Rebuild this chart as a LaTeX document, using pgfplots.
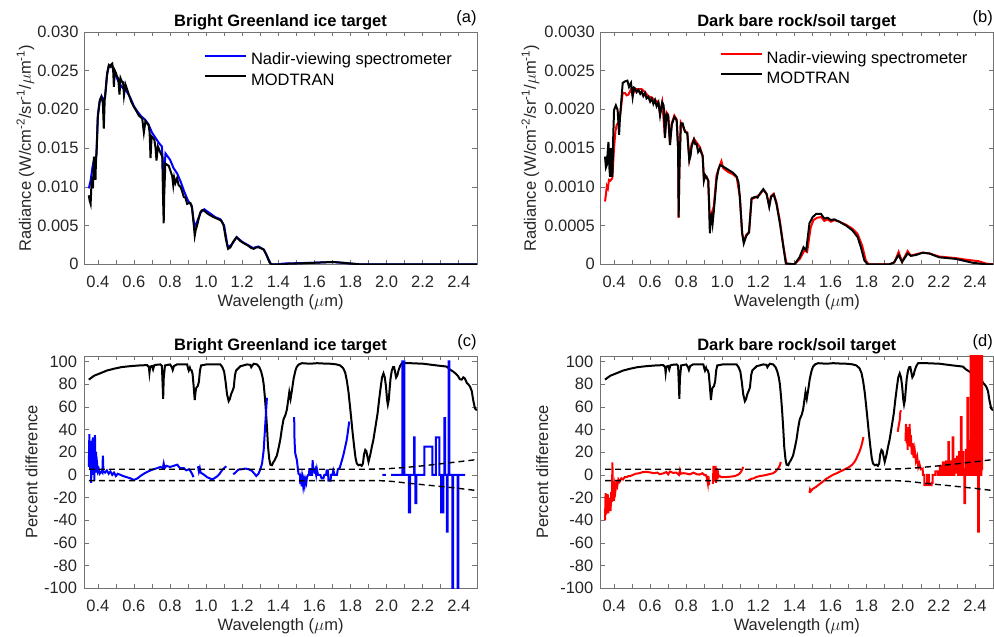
\documentclass[border=0pt]{standalone}
\usepackage{fontspec}
\setmainfont{Liberation Sans}
\usepackage{pgfplots}
\pgfplotsset{compat=1.18}
\definecolor{axgray}{gray}{0.45}
\definecolor{txtgray}{gray}{0.15}
\definecolor{mblue}{RGB}{0,0,255}
\definecolor{mred}{RGB}{255,0,0}

\pgfplotsset{
  every axis title/.style={at={(0.5,1)}, anchor=base, yshift=5.5bp, font=\bfseries, inner sep=0pt},
  panel/.style={
    scale only axis, width=392.5bp, height=232.5bp,
    xmin=0.325, xmax=2.5,
    xtick={0.4,0.6,0.8,1.0,1.2,1.4,1.6,1.8,2.0,2.2,2.4},
    xticklabels={0.4,0.6,0.8,1.0,1.2,1.4,1.6,1.8,2.0,2.2,2.4},
    minor xtick={0.5,0.7,0.9,1.1,1.3,1.5,1.7,1.9,2.1,2.3},
    scaled y ticks=false, scaled x ticks=false,
    axis line style={axgray, line width=0.6bp},
    every tick/.style={axgray, line width=0.6bp},
    major tick length=4.5bp, minor tick length=4.5bp,
    tick align=inside,
    every tick label/.append style={txtgray},
    xticklabel style={anchor=base, yshift=-23.3bp, inner sep=0pt},
    yticklabel style={anchor=east, inner sep=0pt, xshift=-5.5bp},
    xlabel={Wavelength ($\mu$m)},
    xlabel style={at={(axis description cs:0.5,-0.181)}, anchor=base, inner sep=0pt, txtgray},
    ylabel style={anchor=base, inner sep=0pt, txtgray},
    legend style={draw=none, fill=none, inner sep=0pt, outer sep=0pt,
      anchor=north west, row sep=4.3bp, column sep=4bp,
      nodes={inner sep=0pt, text height=12bp, text depth=4bp}},
    legend cell align=left,
    legend image code/.code={\draw[##1, line width=2bp] (0bp,5bp) -- (41bp,5bp);},
    every axis plot/.append style={line width=2bp},
    no markers,
    unbounded coords=jump,
  },
  radA/.style={ymin=0, ymax=0.03,
    ytick={0,0.005,0.01,0.015,0.02,0.025,0.03},
    yticklabels={0,0.005,0.010,0.015,0.020,0.025,0.030}},
  radB/.style={ymin=0, ymax=0.003,
    ytick={0,0.0005,0.001,0.0015,0.002,0.0025,0.003},
    yticklabels={0,0.0005,0.0010,0.0015,0.0020,0.0025,0.0030}},
  pct/.style={ymin=-100, ymax=105,
    ytick={-100,-80,-60,-40,-20,0,20,40,60,80,100},
    yticklabels={-100,-80,-60,-40,-20,0,20,40,60,80,100},
    yticklabel style={xshift=-1.5bp}},
  dashlim/.style={black, line width=1.4bp, dash pattern=on 6bp off 4bp},
}

% atmospheric transmittance (%), black curve in (c) and (d)
\pgfplotstableread{
x y
0.350 84.0
0.380 87.5
0.415 89.7
0.450 92.0
0.489 93.6
0.530 95.0
0.581 95.9
0.630 96.5
0.673 96.8
0.683 95.0
0.686 90.0
0.690 95.5
0.700 96.0
0.706 93.0
0.712 96.5
0.720 97.0
0.747 97.4
0.755 96.0
0.759 80.0
0.762 67.0
0.765 85.0
0.772 96.5
0.800 97.4
0.810 95.0
0.815 92.5
0.822 96.0
0.838 97.4
0.895 97.4
0.900 94.0
0.904 92.0
0.910 94.5
0.913 93.0
0.920 92.0
0.925 89.0
0.930 80.0
0.937 66.0
0.942 74.0
0.946 77.0
0.953 78.0
0.960 82.0
0.966 92.0
0.972 96.5
1.005 97.5
1.079 97.4
1.090 95.0
1.100 91.0
1.108 82.0
1.116 71.0
1.125 65.0
1.132 67.0
1.138 71.0
1.146 74.0
1.153 77.0
1.160 88.0
1.166 92.0
1.190 95.8
1.227 97.4
1.245 97.0
1.250 95.0
1.256 96.5
1.264 98.0
1.282 97.4
1.295 95.0
1.305 91.0
1.313 86.0
1.319 80.0
1.326 68.0
1.332 55.0
1.338 40.0
1.343 25.0
1.350 14.0
1.356 9.0
1.365 8.5
1.372 11.0
1.380 13.0
1.392 17.0
1.402 24.0
1.411 31.0
1.420 41.0
1.429 49.0
1.440 53.0
1.448 58.0
1.455 66.0
1.461 73.0
1.468 67.0
1.476 75.0
1.485 85.0
1.495 92.0
1.503 95.5
1.515 97.5
1.531 98.5
1.577 98.0
1.614 98.5
1.650 98.2
1.688 98.0
1.720 97.5
1.743 96.5
1.760 94.0
1.771 90.0
1.780 83.0
1.789 73.0
1.797 61.0
1.804 50.0
1.812 37.0
1.821 24.0
1.828 15.0
1.835 10.0
1.845 8.5
1.854 9.0
1.862 8.0
1.869 10.0
1.875 18.0
1.882 22.0
1.888 21.0
1.894 16.0
1.900 11.5
1.910 18.0
1.920 26.0
1.927 31.0
1.937 41.0
1.950 54.0
1.960 68.0
1.968 78.0
1.975 86.0
1.983 89.5
1.990 86.0
1.996 79.0
2.003 66.0
2.007 62.0
2.012 66.0
2.016 74.0
2.022 85.0
2.029 92.0
2.036 95.0
2.042 95.0
2.048 90.0
2.053 86.0
2.060 88.0
2.066 92.0
2.075 96.0
2.085 98.5
2.131 98.5
2.204 98.0
2.278 96.5
2.333 95.5
2.350 93.0
2.370 91.0
2.385 89.0
2.397 87.0
2.405 84.5
2.416 84.0
2.425 86.0
2.434 85.0
2.445 81.0
2.452 80.0
2.462 78.0
2.472 74.0
2.480 66.0
2.490 58.5
2.500 57.0
}\transm

\pgfplotstableread{
x y
0.350 5
1.900 5
2.000 5.4
2.100 6.5
2.200 8.0
2.300 9.8
2.400 11.6
2.500 13.5
}\upperlim

\pgfplotstableread{
x y
0.350 -5
1.950 -5
2.000 -5.4
2.050 -6
2.100 -7
2.200 -8.6
2.300 -10.2
2.400 -11.9
2.500 -13.8
}\lowerlim

\begin{document}
\fontsize{16.5bp}{19.8bp}\selectfont
\begin{tikzpicture}[font=\fontsize{16.5bp}{19.8bp}\selectfont]
\path (0,0) rectangle (994bp,-637bp);

% ---------------- (a) ----------------
\begin{axis}[panel, radA, at={(84.3bp,-264.3bp)}, anchor=south west,
  title={Bright Greenland ice target},
  ylabel={Radiance (W/cm\textsuperscript{-2}/sr\textsuperscript{-1}/$\mu$m\textsuperscript{-1})},
  ylabel style={at={(axis description cs:-0.1364,0.5)}},
  legend style={at={(axis description cs:0.305,0.9095)}},
  extra description/.code={\node[anchor=base east, inner sep=0pt] at (1,1.039) {(a)};},
]
\addplot[mblue] table {
0.350 0.0098
0.360 0.0108
0.370 0.0125
0.380 0.0136
0.390 0.0133
0.395 0.0160
0.400 0.0193
0.410 0.0210
0.420 0.0217
0.430 0.0212
0.440 0.0216
0.450 0.0243
0.460 0.0255
0.470 0.0257
0.480 0.0256
0.490 0.0247
0.500 0.0243
0.520 0.0233
0.540 0.0227
0.560 0.0223
0.580 0.0215
0.600 0.0204
0.620 0.0197
0.640 0.0191
0.660 0.0187
0.680 0.0181
0.700 0.0170
0.720 0.0163
0.740 0.0156
0.755 0.0152
0.765 0.0110
0.775 0.0143
0.800 0.0135
0.820 0.0124
0.840 0.0117
0.860 0.0106
0.880 0.0093
0.900 0.0082
0.920 0.0076
0.935 0.0048
0.950 0.0055
0.970 0.0067
0.990 0.0071
1.020 0.0066
1.050 0.0061
1.080 0.0058
1.100 0.0050
1.120 0.0022
1.140 0.0025
1.170 0.0035
1.200 0.0029
1.230 0.0025
1.260 0.0021
1.290 0.0023
1.320 0.0019
1.345 0.0007
1.360 0.0000
1.400 0.0000
1.430 0.0001
1.600 0.0002
1.700 0.0003
1.800 0.0001
1.850 0.0000
2.500 0.0000
};
\addlegendentry{Nadir-viewing spectrometer}
\addplot[black] table {
0.350 0.0089
0.355 0.0082
0.360 0.0078
0.365 0.0105
0.369 0.0113
0.373 0.0098
0.378 0.0139
0.383 0.0120
0.387 0.0109
0.390 0.0138
0.393 0.0143
0.397 0.0170
0.400 0.0190
0.405 0.0200
0.411 0.0212
0.420 0.0216
0.428 0.0208
0.433 0.0175
0.438 0.0212
0.445 0.0228
0.452 0.0247
0.461 0.0257
0.470 0.0255
0.475 0.0258
0.480 0.0259
0.485 0.0250
0.489 0.0229
0.494 0.0250
0.500 0.0247
0.507 0.0242
0.513 0.0240
0.520 0.0219
0.526 0.0240
0.533 0.0236
0.540 0.0235
0.545 0.0218
0.553 0.0232
0.562 0.0226
0.572 0.0219
0.585 0.0210
0.600 0.0203
0.613 0.0198
0.627 0.0192
0.646 0.0188
0.655 0.0170
0.664 0.0185
0.682 0.0179
0.687 0.0170
0.692 0.0137
0.698 0.0165
0.713 0.0161
0.720 0.0150
0.725 0.0134
0.733 0.0152
0.747 0.0144
0.757 0.0139
0.762 0.0080
0.765 0.0053
0.768 0.0090
0.774 0.0130
0.793 0.0127
0.812 0.0114
0.818 0.0102
0.823 0.0112
0.830 0.0105
0.839 0.0111
0.848 0.0102
0.858 0.0100
0.866 0.0095
0.876 0.0087
0.885 0.0086
0.895 0.0078
0.904 0.0079
0.913 0.0079
0.922 0.0073
0.930 0.0055
0.937 0.0037
0.943 0.0045
0.950 0.0050
0.960 0.0060
0.970 0.0068
0.978 0.0070
0.990 0.0069
1.010 0.0065
1.040 0.0061
1.070 0.0058
1.085 0.0056
1.097 0.0050
1.110 0.0032
1.122 0.0020
1.135 0.0022
1.150 0.0029
1.168 0.0035
1.190 0.0030
1.210 0.0027
1.227 0.0025
1.250 0.0021
1.264 0.0020
1.280 0.0022
1.291 0.0022
1.310 0.0020
1.319 0.0019
1.335 0.0012
1.350 0.0003
1.360 0.0000
1.440 0.0000
1.460 0.0001
1.500 0.0001
1.600 0.0002
1.700 0.0003
1.760 0.0002
1.800 0.0001
1.850 0.0000
2.500 0.0000
};
\addlegendentry{MODTRAN}
\end{axis}

% ---------------- (b) ----------------
\begin{axis}[panel, radB, at={(600.5bp,-264.3bp)}, anchor=south west,
  title={Dark bare rock/soil target},
  ylabel={Radiance (W/cm\textsuperscript{-2}/sr\textsuperscript{-1}/$\mu$m\textsuperscript{-1})},
  ylabel style={at={(axis description cs:-0.1646,0.5)}},
  legend style={at={(axis description cs:0.3036,0.917)}},
  extra description/.code={\node[anchor=base east, inner sep=0pt] at (1,1.039) {(b)};},
]
\addplot[mred] table {
0.350 0.00081
0.355 0.00090
0.360 0.00101
0.366 0.00098
0.372 0.00109
0.380 0.00108
0.390 0.00111
0.395 0.00130
0.400 0.00150
0.408 0.00172
0.415 0.00180
0.425 0.00183
0.433 0.00190
0.440 0.00205
0.448 0.00221
0.461 0.00221
0.470 0.00218
0.480 0.00219
0.494 0.00226
0.503 0.00218
0.516 0.00226
0.535 0.00226
0.553 0.00226
0.572 0.00222
0.590 0.00217
0.609 0.00215
0.627 0.00212
0.646 0.00209
0.655 0.00195
0.667 0.00209
0.682 0.00165
0.691 0.00196
0.700 0.00193
0.710 0.00156
0.720 0.00182
0.734 0.00192
0.747 0.00187
0.755 0.00150
0.758 0.00060
0.762 0.00120
0.770 0.00183
0.793 0.00172
0.806 0.00170
0.817 0.00136
0.830 0.00155
0.843 0.00162
0.858 0.00157
0.876 0.00151
0.891 0.00140
0.898 0.00110
0.913 0.00113
0.922 0.00108
0.931 0.00055
0.940 0.00065
0.953 0.00075
0.968 0.00115
0.987 0.00128
0.995 0.00133
1.005 0.00124
1.033 0.00119
1.060 0.00116
1.080 0.00112
1.097 0.00087
1.110 0.00040
1.119 0.00030
1.133 0.00038
1.148 0.00042
1.162 0.00084
1.180 0.00086
1.208 0.00090
1.227 0.00096
1.245 0.00091
1.260 0.00076
1.270 0.00088
1.285 0.00091
1.300 0.00080
1.319 0.00056
1.338 0.00024
1.355 0.00001
1.400 0.00000
1.430 0.00007
1.455 0.00018
1.470 0.00016
1.490 0.00048
1.505 0.00057
1.525 0.00060
1.547 0.00061
1.565 0.00056
1.584 0.00058
1.602 0.00055
1.620 0.00057
1.648 0.00055
1.686 0.00051
1.720 0.00046
1.750 0.00039
1.775 0.00024
1.795 0.00005
1.810 0.00000
1.930 0.00000
1.955 0.00003
1.977 0.00016
1.996 0.00003
2.027 0.00017
2.045 0.00011
2.073 0.00013
2.110 0.00015
2.147 0.00014
2.202 0.00010
2.294 0.00008
2.350 0.00006
2.420 0.00004
2.460 0.00001
2.500 0.00000
};
\addlegendentry{Nadir-viewing spectrometer}
\addplot[black] table {
0.350 0.00139
0.355 0.00125
0.360 0.00128
0.365 0.00145
0.369 0.00158
0.374 0.00125
0.378 0.00113
0.383 0.00150
0.387 0.00135
0.391 0.00113
0.395 0.00160
0.400 0.00199
0.410 0.00205
0.420 0.00199
0.428 0.00167
0.433 0.00190
0.437 0.00201
0.448 0.00234
0.461 0.00236
0.474 0.00237
0.483 0.00229
0.494 0.00234
0.503 0.00216
0.510 0.00228
0.516 0.00227
0.525 0.00222
0.535 0.00225
0.545 0.00220
0.553 0.00223
0.562 0.00217
0.572 0.00221
0.580 0.00214
0.590 0.00216
0.600 0.00210
0.609 0.00214
0.618 0.00207
0.627 0.00212
0.636 0.00204
0.646 0.00209
0.655 0.00192
0.667 0.00209
0.675 0.00205
0.682 0.00163
0.691 0.00194
0.700 0.00192
0.710 0.00154
0.720 0.00180
0.734 0.00190
0.747 0.00186
0.755 0.00150
0.758 0.00061
0.762 0.00120
0.770 0.00182
0.780 0.00182
0.793 0.00171
0.806 0.00169
0.817 0.00134
0.824 0.00140
0.830 0.00152
0.843 0.00161
0.850 0.00155
0.858 0.00155
0.866 0.00145
0.876 0.00149
0.885 0.00143
0.891 0.00140
0.898 0.00108
0.905 0.00115
0.913 0.00112
0.922 0.00108
0.927 0.00075
0.931 0.00040
0.935 0.00060
0.940 0.00063
0.946 0.00052
0.953 0.00069
0.968 0.00109
0.978 0.00122
0.987 0.00128
1.005 0.00126
1.033 0.00122
1.060 0.00118
1.080 0.00113
1.090 0.00105
1.097 0.00087
1.110 0.00040
1.119 0.00027
1.133 0.00037
1.148 0.00041
1.162 0.00085
1.180 0.00087
1.195 0.00086
1.208 0.00091
1.227 0.00097
1.245 0.00091
1.260 0.00074
1.270 0.00087
1.285 0.00090
1.300 0.00078
1.319 0.00053
1.338 0.00023
1.352 0.00001
1.400 0.00000
1.428 0.00009
1.450 0.00022
1.465 0.00018
1.483 0.00053
1.501 0.00061
1.520 0.00065
1.547 0.00065
1.565 0.00059
1.584 0.00060
1.602 0.00057
1.620 0.00058
1.648 0.00055
1.686 0.00050
1.720 0.00044
1.750 0.00035
1.768 0.00022
1.787 0.00005
1.805 0.00000
1.925 0.00000
1.950 0.00002
1.977 0.00012
1.996 0.00003
2.027 0.00014
2.045 0.00011
2.073 0.00012
2.110 0.00015
2.147 0.00014
2.202 0.00009
2.294 0.00007
2.387 0.00002
2.460 0.00000
2.500 0.00000
};
\addlegendentry{MODTRAN}
\end{axis}

% ---------------- (c) ----------------
\begin{axis}[panel, pct, at={(84.3bp,-588.3bp)}, anchor=south west,
  title={Bright Greenland ice target},
  ylabel={Percent difference},
  ylabel style={at={(axis description cs:-0.1196,0.5)}},
  extra description/.code={\node[anchor=base east, inner sep=0pt] at (1,1.039) {(c)};},
]
\addplot[black] table[x=x, y=y] {\transm};
\addplot[mblue] table {
0.350 7
0.353 36
0.357 5
0.360 30
0.363 -7
0.366 20
0.369 8
0.372 33
0.375 0
0.378 25
0.381 -5
0.384 35
0.387 10
0.390 20
0.393 2
0.397 8
0.400 3
0.405 5
0.410 1
0.420 3
0.425 2
0.428 17
0.431 3
0.440 2
0.450 4
0.460 1
0.470 3
0.480 0
0.490 2
0.500 -1
0.510 1
0.526 0
0.540 -1
0.560 -2
0.580 -3
0.600 -4.5
0.620 -3
0.640 -0.5
0.660 1.5
0.673 2.6
0.700 4.5
0.720 5.5
0.747 7
0.760 6
0.765 10
0.770 6
0.780 8
0.800 7
0.820 8
0.840 9
0.855 6
0.876 6
0.890 4
0.905 5
0.915 3
0.922 1
0.930 -2
0.940 nan
0.955 7.6
0.960 3
0.965 6
0.970 2
0.980 1
0.990 0
1.005 -2
1.020 -3
1.033 -4
1.045 -3
1.060 -1.5
1.075 1
1.088 4
1.100 6
1.112 7.6
1.130 nan
1.150 0.5
1.162 2
1.180 4.7
1.200 5
1.217 5.6
1.235 5
1.254 3.5
1.268 1
1.278 -1
1.290 1
1.300 4.7
1.310 10
1.319 21.7
1.328 45
1.337 68
1.400 nan
1.488 51
1.490 30
1.494 19
1.503 13
1.508 6
1.512 1
1.520 0
1.522 -8
1.526 -3
1.530 -10
1.534 -4
1.538 -10
1.542 -5
1.546 -9
1.550 -4
1.555 -7
1.559 -2
1.565 0
1.570 0
1.572 5
1.580 5
1.582 0
1.588 0
1.590 13
1.594 5
1.600 3
1.605 5
1.610 0
1.614 5
1.620 0
1.633 0
1.640 -3
1.650 -3
1.655 0
1.665 0
1.668 4
1.675 4
1.678 -5
1.690 -5
1.692 0
1.700 0
1.705 4
1.712 0
1.725 0
1.730 5
1.740 6
1.753 13
1.763 19
1.771 25
1.778 30
1.784 36
1.793 47
1.900 nan
1.977 0
1.996 0
2.010 nan
2.025 0
2.088 0
2.088 100
2.099 100
2.099 0
2.124 0
2.124 -33
2.130 -33
2.130 0
2.152 0
2.152 33
2.156 33
2.156 0
2.160 0
2.160 -25
2.165 -25
2.165 0
2.210 0
2.210 25
2.254 25
2.254 0
2.273 0
2.273 33
2.293 33
2.293 0
2.302 0
2.302 -33
2.315 -33
2.315 0
2.320 0
2.320 50
2.324 50
2.324 0
2.334 0
2.334 -50
2.338 -50
2.338 0
2.344 0
2.344 100
2.348 100
2.348 0
2.365 0
2.365 -110
2.369 -110
2.369 0
2.394 0
2.394 -110
2.398 -110
2.398 0
2.435 0
};
\addplot[dashlim] table[x=x, y=y] {\upperlim};
\addplot[dashlim] table[x=x, y=y] {\lowerlim};
\end{axis}

% ---------------- (d) ----------------
\begin{axis}[panel, pct, at={(600.5bp,-588.3bp)}, anchor=south west,
  title={Dark bare rock/soil target},
  ylabel={Percent difference},
  ylabel style={at={(axis description cs:-0.1333,0.5)}},
  extra description/.code={\node[anchor=base east, inner sep=0pt] at (1,1.039) {(d)};},
]
\addplot[black] table[x=x, y=y] {\transm};
\addplot[mred] table {
0.350 -40
0.353 -16
0.356 -35
0.359 -20
0.362 -30
0.365 -17
0.368 -34
0.372 -20
0.375 -28
0.378 -22
0.381 -32
0.384 -15
0.388 -24
0.391 11
0.394 -18
0.397 -8
0.400 -23
0.404 -10
0.408 -14
0.413 -7.6
0.418 -10
0.424 -4
0.431 -6
0.440 -3
0.450 -4
0.459 -2
0.470 -2
0.480 -1
0.490 -1
0.505 0
0.520 1
0.540 1.5
0.560 2.5
0.580 2.6
0.600 2.2
0.620 1.5
0.640 2
0.653 0.6
0.670 1.2
0.690 2.5
0.700 0.5
0.710 3
0.727 1.8
0.745 2
0.760 0
0.765 4
0.770 1
0.785 1.5
0.800 1.2
0.820 0.5
0.840 2
0.860 0.5
0.874 0.3
0.890 1.5
0.900 0
0.910 -0.3
0.915 -3
0.920 -7.6
0.923 -1
0.927 -9
0.940 nan
0.948 -8
0.951 8
0.954 -6
0.957 7
0.960 -5
0.963 8
0.966 -7
0.969 6
0.972 -4
0.975 4
0.978 -2
0.985 -1
0.995 -2
1.010 -2
1.030 -1.8
1.050 -1.5
1.070 -1
1.085 0
1.095 1
1.105 3
1.116 7
1.130 nan
1.144 -4.7
1.160 -3.5
1.175 -3
1.190 -1.8
1.210 -1
1.230 -0.5
1.245 0
1.265 0.8
1.282 1.5
1.295 3
1.310 5.8
1.318 8
1.324 11.4
1.400 nan
1.483 -15.8
1.486 -13
1.490 -14.5
1.500 -12.5
1.520 -10.5
1.540 -8
1.557 -6
1.575 -3.5
1.594 -1.8
1.612 0
1.630 1.2
1.650 2.8
1.667 4
1.685 5.5
1.704 7
1.720 9
1.732 11.4
1.742 14
1.750 17
1.760 20.5
1.769 24.6
1.776 29
1.782 33.4
1.900 nan
1.972 38
1.978 44
1.983 48
1.986 55
1.990 57
2.000 nan
2.015 30
2.018 45
2.021 28
2.024 40
2.027 22
2.030 42
2.034 30
2.038 45
2.041 25
2.045 35
2.050 18
2.055 28
2.060 15
2.066 22
2.073 12
2.080 16
2.086 7
2.092 10
2.100 5
2.110 5.6
2.112 0
2.120 0
2.120 -9
2.135 -9
2.135 0
2.145 0
2.145 -9
2.160 -9
2.160 -7
2.165 -7
2.165 0
2.180 0
2.180 3
2.195 3
2.195 0
2.205 0
2.205 8
2.215 8
2.215 0
2.222 0
2.222 11
2.232 11
2.232 0
2.240 0
2.240 12
2.248 12
2.248 0
2.252 0
2.252 29
2.256 29
2.256 0
2.262 0
2.262 12
2.270 12
2.270 0
2.276 0
2.276 33
2.280 33
2.280 0
2.286 0
2.286 14
2.292 14
2.292 2
2.300 2
2.300 16
2.306 16
2.306 0
2.312 0
2.312 20
2.318 20
2.318 0
2.322 0
2.322 51
2.326 51
2.326 0
2.330 0
2.330 20
2.336 20
2.336 5
2.342 5
2.342 -25
2.346 -25
2.346 0
2.350 0
2.350 22
2.355 22
2.355 0
2.358 0
2.358 68
2.362 68
2.362 0
2.368 0
2.368 30
2.372 30
2.372 0
2.376 0
2.376 110
2.380 110
2.380 0
2.384 0
2.384 89
2.388 89
2.388 10
2.393 10
2.393 110
2.397 110
2.397 0
2.402 0
2.402 110
2.406 110
2.406 0
2.410 0
2.410 110
2.414 110
2.414 0
2.418 0
2.418 -50
2.421 -50
2.421 0
2.425 0
2.425 110
2.430 110
2.430 0
2.435 0
2.435 110
2.440 110
2.440 5
2.445 5
};
\addplot[dashlim] table[x=x, y=y] {\upperlim};
\addplot[dashlim] table[x=x, y=y] {\lowerlim};
\end{axis}
\end{tikzpicture}
\end{document}
